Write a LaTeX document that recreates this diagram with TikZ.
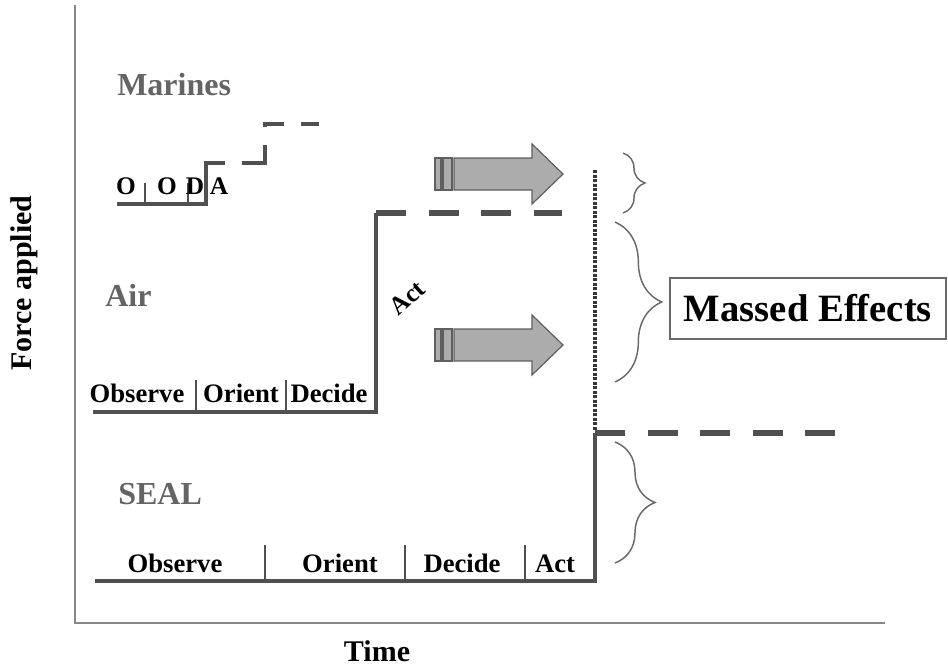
\documentclass[tikz,border=0pt]{standalone}
\usepackage{fontspec}
\setmainfont{Liberation Serif}
\usetikzlibrary{decorations.pathreplacing}

\definecolor{axisgray}{RGB}{135,135,135}
\definecolor{linegray}{RGB}{80,80,80}
\definecolor{dotgray}{RGB}{55,55,55}
\definecolor{labelgray}{RGB}{100,100,100}
\definecolor{arrowfill}{RGB}{172,172,172}
\definecolor{arrowedge}{RGB}{95,95,95}
\definecolor{bracegray}{RGB}{105,105,105}

\tikzset{
  axisline/.style={draw=axisgray, line width=1.5pt},
  stepline/.style={draw=linegray, line width=3pt, line join=miter},
  heavydash/.style={draw=linegray, line width=5pt, dash pattern=on 22.5pt off 16.9pt},
  divider/.style={draw=linegray, line width=0.9pt},
  dotmark/.style={fill=dotgray},
  unitlabel/.style={text=labelgray, font=\fontsize{24}{28}\selectfont\bfseries, anchor=base west, inner sep=0pt},
  phase/.style={font=\fontsize{20}{24}\selectfont\bfseries, anchor=base, inner sep=0pt},
  smallphase/.style={font=\fontsize{19}{22}\selectfont\bfseries, anchor=base, inner sep=0pt},
  axislabel/.style={font=\fontsize{22.5}{26}\selectfont\bfseries, inner sep=0pt},
  fatarrow/.style={fill=arrowfill, draw=arrowedge, line width=0.9pt, line join=miter},
  curly/.style={draw=bracegray, line width=1.1pt, decorate},
  effectbox/.style={draw=bracegray, line width=1.1pt, fill=white,
    minimum width=207pt, minimum height=45.75pt, inner sep=0pt,
    font=\fontsize{29}{33}\selectfont\bfseries}
}

\begin{document}
\begin{tikzpicture}[x=0.75pt, y=-0.75pt]
  \useasboundingbox[fill=white] (0,0) rectangle (948,669);

  % axes
  \coordinate (ytop) at (75,5);
  \coordinate (origin) at (75,623);
  \coordinate (xend) at (885,623);
  \draw[axisline] (ytop) -- (origin) -- (xend);
  \node[axislabel, rotate=90] (force) at (24,283) {Force applied};
  \node[axislabel] (time) at (377,651) {Time};

  % unit names
  \node[unitlabel] (marines) at (117,95) {Marines};
  \node[unitlabel] (air) at (105,306) {Air};
  \node[unitlabel] (seal) at (118,504) {SEAL};

  % Marines OODA loop
  \coordinate (m0) at (117,204);
  \coordinate (m1) at (206,204);
  \coordinate (m2) at (206,163);
  \coordinate (m3) at (225,163);
  \coordinate (m4) at (265,163);
  \coordinate (m5) at (265,124);
  \coordinate (m6) at (320,124);
  \draw[stepline] (m0) -- (m1) -- (m2) -- (m3);
  \draw[stepline, dash pattern=on 0pt off 12.75pt on 30.75pt off 13.5pt on 16.5pt off 12.75pt on 13.5pt off 20pt]
    (m3) -- (m4) -- (m5) -- (m6);
  \coordinate (md1a) at (145,183); \coordinate (md1b) at (145,204);
  \coordinate (md2a) at (188,183); \coordinate (md2b) at (188,204);
  \draw[divider] (md1a) -- (md1b);
  \draw[divider] (md2a) -- (md2b);
  \node[smallphase] (mo1) at (126,194) {O};
  \node[smallphase] (mo2) at (167,194) {O};
  \node[smallphase] (md) at (195,194) {D};
  \node[smallphase] (ma) at (219,194) {A};

  % Air OODA loop
  \coordinate (a0) at (93,412);
  \coordinate (a1) at (376,412);
  \coordinate (a2) at (376,213);
  \coordinate (a3) at (562,213);
  \draw[stepline] (a0) -- (a1) -- (a2);
  \draw[heavydash] (a2) -- (a3);
  \coordinate (ad1a) at (196,380); \coordinate (ad1b) at (196,412);
  \coordinate (ad2a) at (286,380); \coordinate (ad2b) at (286,412);
  \draw[divider] (ad1a) -- (ad1b);
  \draw[divider] (ad2a) -- (ad2b);
  \node[phase] (aobs) at (137,402) {Observe};
  \node[phase] (aori) at (241,402) {Orient};
  \node[phase] (adec) at (329,402) {Decide};
  \node[font=\fontsize{19}{22}\selectfont\bfseries, inner sep=0pt, rotate=42] (aact) at (407,298) {Act};

  % SEAL OODA loop
  \coordinate (s0) at (95,581);
  \coordinate (s1) at (595,581);
  \coordinate (s2) at (595,433);
  \coordinate (s3) at (835,433);
  \draw[stepline] (s0) -- (s1) -- (s2);
  \draw[heavydash] (s2) -- (s3);
  \coordinate (sd1a) at (265,545); \coordinate (sd1b) at (265,581);
  \coordinate (sd2a) at (405,545); \coordinate (sd2b) at (405,581);
  \coordinate (sd3a) at (525,545); \coordinate (sd3b) at (525,581);
  \draw[divider] (sd1a) -- (sd1b);
  \draw[divider] (sd2a) -- (sd2b);
  \draw[divider] (sd3a) -- (sd3b);
  \node[phase] (sobs) at (175,572) {Observe};
  \node[phase] (sori) at (340,572) {Orient};
  \node[phase] (sdec) at (462,572) {Decide};
  \node[phase] (sact) at (555,572) {Act};

  % synchronisation line made of square dots
  \foreach \k in {0,...,57}{
    \fill[dotmark] (593,170+\k*4.5) rectangle ++(4,3);
  }

  % block arrows
  \foreach \c/\nm in {174/upper, 345/lower}{
    \draw[fatarrow] (435,\c-16) rectangle (441,\c+16);
    \draw[fatarrow] (443,\c-16) rectangle (452,\c+16);
    \draw[fatarrow] (454,\c-16) -- (532,\c-16) -- (532,\c-30) -- (563,\c)
      -- (532,\c+30) -- (532,\c+16) -- (454,\c+16) -- cycle;
  }

  % braces
  \coordinate (b1t) at (623,153); \coordinate (b1b) at (623,213);
  \coordinate (b2t) at (615,222); \coordinate (b2b) at (615,382);
  \coordinate (b3t) at (615,442); \coordinate (b3b) at (615,563);
  \draw[curly, decoration={brace, amplitude=16.5pt}] (b1t) -- (b1b);
  \draw[curly, decoration={brace, amplitude=35pt}] (b2t) -- (b2b);
  \draw[curly, decoration={brace, amplitude=30pt}] (b3t) -- (b3b);

  % result
  \node[effectbox] (massed) at (808,308.5) {Massed Effects};
\end{tikzpicture}
\end{document}
